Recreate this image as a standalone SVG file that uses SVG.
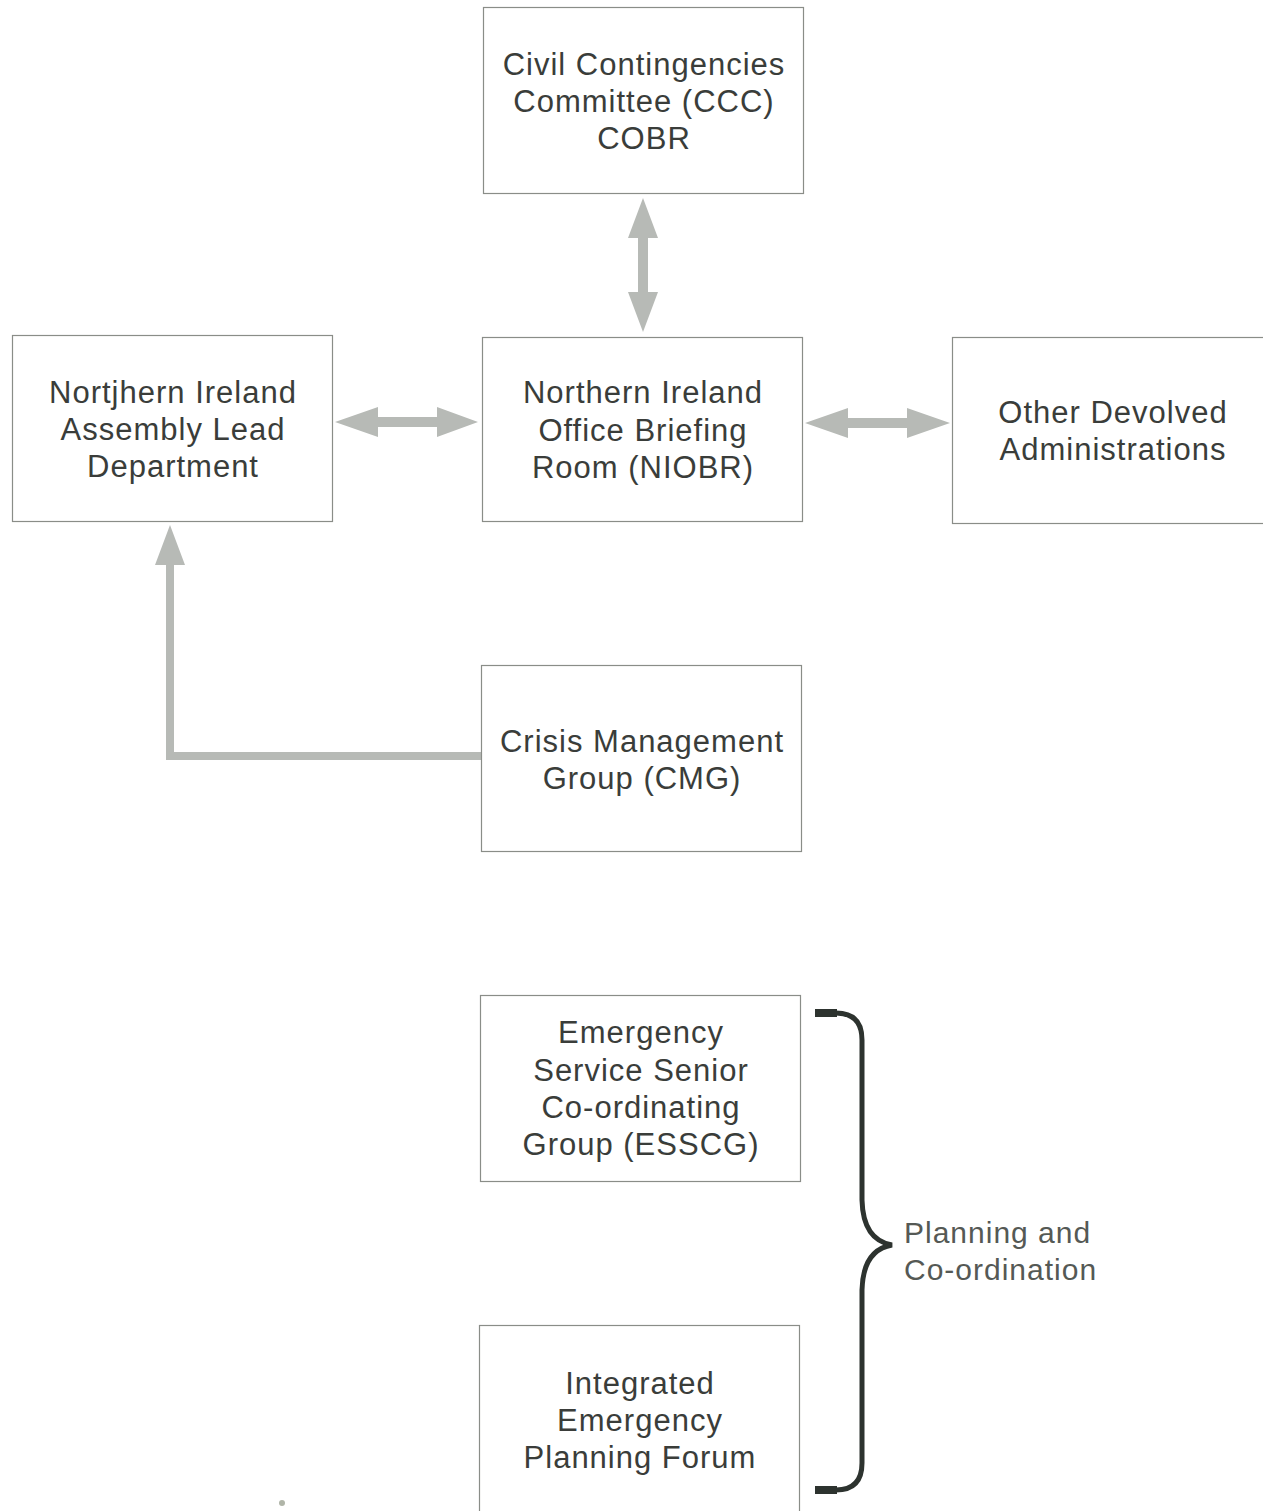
<svg xmlns="http://www.w3.org/2000/svg" width="1263" height="1511" viewBox="0 0 1263 1511">
<style>
.box{fill:#ffffff;stroke:#8a8d88;stroke-width:1.2}
.t{font-family:"Liberation Sans",Arial,sans-serif;font-size:31px;letter-spacing:1px;fill:#3a3d3a;text-anchor:middle}
.side{font-family:"Liberation Sans",Arial,sans-serif;font-size:30px;letter-spacing:1px;fill:#555955}
.arr{fill:#b7bab6}
.brace{fill:none;stroke:#2d332f;stroke-width:5;stroke-linecap:butt}
.bend{fill:#2d332f}
</style>
<rect width="1263" height="1511" fill="#ffffff"/>
<g id="connectors">
  <path class="arr" d="M643,198 L658,238 L648,238 L648,292 L658,292 L643,332 L628,292 L638,292 L638,238 L628,238 Z"/>
  <path class="arr" d="M335,422 L378,407 L378,417 L437,417 L437,407 L478,422 L437,437 L437,427 L378,427 L378,437 Z"/>
  <path class="arr" d="M805,423 L848,408 L848,418 L907,418 L907,408 L950,423 L907,438 L907,428 L848,428 L848,438 Z"/>
  <path class="arr" d="M170,525 L185,565 L174,565 L174,752 L481,752 L481,760 L166,760 L166,565 L155,565 Z"/>
  <path class="brace" d="M815,1013 H836 Q862,1013 862,1040 V1200 Q863,1240 892,1245 Q863,1250 862,1290 V1463 Q862,1490 836,1490 H815"/>
  <rect class="bend" x="815" y="1009" width="22" height="8"/>
  <rect class="bend" x="815" y="1486" width="22" height="8"/>
</g>
<g id="ccc">
  <rect class="box" x="483.5" y="7.5" width="320" height="186"/>
  <text class="t" x="644" y="75">Civil Contingencies</text>
  <text class="t" x="644" y="112">Committee (CCC)</text>
  <text class="t" x="644" y="149">COBR</text>
</g>
<g id="nia">
  <rect class="box" x="12.5" y="335.5" width="320" height="186"/>
  <text class="t" x="173" y="403">Nortjhern Ireland</text>
  <text class="t" x="173" y="440">Assembly Lead</text>
  <text class="t" x="173" y="477">Department</text>
</g>
<g id="niobr">
  <rect class="box" x="482.5" y="337.5" width="320" height="184"/>
  <text class="t" x="643" y="403">Northern Ireland</text>
  <text class="t" x="643" y="441">Office Briefing</text>
  <text class="t" x="643" y="478">Room (NIOBR)</text>
</g>
<g id="oda">
  <rect class="box" x="952.5" y="337.5" width="330" height="186"/>
  <text class="t" x="1113" y="423">Other Devolved</text>
  <text class="t" x="1113" y="460">Administrations</text>
</g>
<g id="cmg">
  <rect class="box" x="481.5" y="665.5" width="320" height="186"/>
  <text class="t" x="642" y="752">Crisis Management</text>
  <text class="t" x="642" y="789">Group (CMG)</text>
</g>
<g id="esscg">
  <rect class="box" x="480.5" y="995.5" width="320" height="186"/>
  <text class="t" x="641" y="1043">Emergency</text>
  <text class="t" x="641" y="1081">Service Senior</text>
  <text class="t" x="641" y="1118">Co-ordinating</text>
  <text class="t" x="641" y="1155">Group (ESSCG)</text>
</g>
<g id="iepf">
  <rect class="box" x="479.5" y="1325.5" width="320" height="200"/>
  <text class="t" x="640" y="1394">Integrated</text>
  <text class="t" x="640" y="1431">Emergency</text>
  <text class="t" x="640" y="1468">Planning Forum</text>
</g>
<g id="planning-label">
  <text class="side" x="904" y="1243">Planning and</text>
  <text class="side" x="904" y="1280">Co-ordination</text>
</g>
<circle cx="282" cy="1503" r="3" fill="#b0b5a8"/>
</svg>
